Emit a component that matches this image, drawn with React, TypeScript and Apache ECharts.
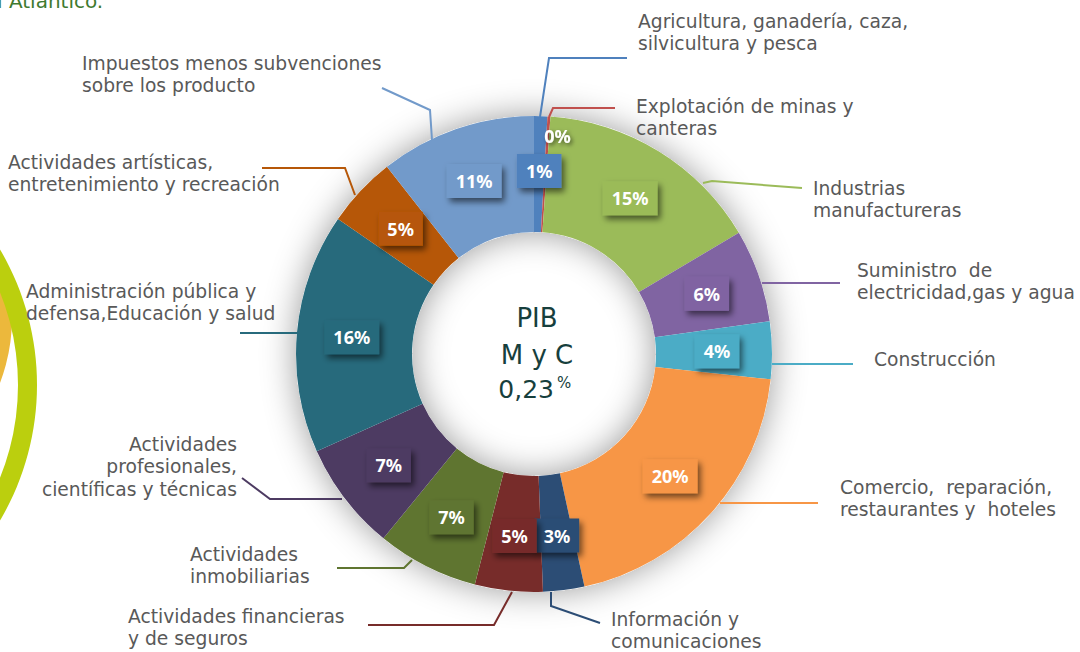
import React, { useEffect, useRef } from 'react';
import * as echarts from 'echarts';

// ---- data ----
const sectors: string[] = [
  'Agricultura, ganadería, caza,\nsilvicultura y pesca',
  'Explotación de minas y\ncanteras',
  'Industrias\nmanufactureras',
  'Suministro  de\nelectricidad,gas y agua',
  'Construcción',
  'Comercio,  reparación,\nrestaurantes y  hoteles',
  'Información y\ncomunicaciones',
  'Actividades financieras\ny de seguros',
  'Actividades\ninmobiliarias',
  'Actividades\nprofesionales,\ncientíficas y técnicas',
  'Administración pública y\ndefensa,Educación y salud',
  'Actividades artísticas,\nentretenimiento y recreación',
  'Impuestos menos subvenciones\nsobre los producto',
];
const shares: number[] = [0.9, 0.2, 15.4, 6.3, 3.9, 19.9, 2.8, 4.6, 6.9, 7.4, 16.3, 4.8, 10.6];
const centerTitle = ['PIB', 'M y C'];
const centerValue = '0,23';

// ---- styles / layout ----
const colors = [
  '#4f81bd', '#c0504d', '#9bbb59', '#8064a2', '#4bacc6', '#f79646', '#2c4d75',
  '#772c2a', '#5f7530', '#4d3b62', '#276a7c', '#b65708', '#729aca',
];
const labelBoxes: [number, number, string][] = [
  [638, 10, 'left'],
  [636, 95, 'left'],
  [813, 177, 'left'],
  [857, 259, 'left'],
  [874, 348, 'left'],
  [840, 476, 'left'],
  [611, 608, 'left'],
  [128, 605, 'left'],
  [190, 543, 'left'],
  [237, 433, 'right'],
  [26, 280, 'left'],
  [8, 151, 'left'],
  [82, 52, 'left'],
];
const leaderPaths: number[][][] = [
  [[540, 117], [549, 58], [627, 58]],
  [[549, 117], [553, 108], [615, 108]],
  [[703, 183], [712, 181], [802, 188]],
  [[762, 283], [800, 283], [840, 283]],
  [[772, 364], [810, 364], [853, 364]],
  [[720, 503], [770, 503], [818, 503]],
  [[551, 592], [551, 606], [600, 623]],
  [[512, 592], [494, 625], [368, 625]],
  [[412, 560], [404, 568], [337, 568]],
  [[342, 499], [270, 499], [242, 478]],
  [[297, 333], [270, 333], [240, 333]],
  [[355, 195], [345, 168], [262, 168]],
  [[432, 140], [430, 110], [382, 88]],
];
const CENTER = [534, 354];
const RADIUS = [122, 238];

export default function App() {
  const ref = useRef<HTMLDivElement>(null);
  useEffect(() => {
    if (!ref.current) return;
    const chart = echarts.init(ref.current, undefined, { renderer: 'svg' });
    const innerData = shares.map((v, i) => ({
      value: v,
      name: sectors[i],
      itemStyle: { color: colors[i] },
      label:
        i === 1
          ? {
              backgroundColor: 'transparent',
              shadowColor: 'transparent',
              textShadowColor: 'rgba(0,0,0,0.55)',
              textShadowBlur: 4,
              textShadowOffsetX: 2,
              textShadowOffsetY: 2,
            }
          : { backgroundColor: colors[i] },
    }));
    const outerData = shares.map((v, i) => ({
      value: v,
      name: sectors[i],
      itemStyle: { color: 'rgba(0,0,0,0)' },
      labelLine: { lineStyle: { color: colors[i] } },
    }));
    chart.setOption({
      animation: false,
      backgroundColor: '#ffffff',
      graphic: [
        {
          type: 'ring',
          z: -10,
          shape: { cx: -170, cy: 318, r: 182, r0: 160 },
          style: { fill: '#ecb83c' },
        },
        {
          type: 'ring',
          z: -9,
          shape: { cx: -230, cy: 385, r: 267, r0: 248 },
          style: { fill: '#bbcf0e' },
        },
        {
          type: 'text',
          x: -28,
          y: 11,
          style: {
            text: 'del Atlántico.',
            fill: '#3f7a2f',
            font: '20px "DejaVu Sans"',
            align: 'left',
            verticalAlign: 'bottom',
          },
        },
        {
          type: 'text',
          x: 537,
          y: 318,
          z: 10,
          style: {
            text: centerTitle[0],
            fill: '#173f3d',
            font: '26px "DejaVu Sans"',
            align: 'center',
            verticalAlign: 'middle',
          },
        },
        {
          type: 'text',
          x: 537,
          y: 355,
          z: 10,
          style: {
            text: centerTitle[1],
            fill: '#173f3d',
            font: '26px "DejaVu Sans"',
            align: 'center',
            verticalAlign: 'middle',
          },
        },
        {
          type: 'text',
          x: 554,
          y: 389,
          z: 10,
          style: {
            text: centerValue,
            fill: '#173f3d',
            font: '25px "DejaVu Sans"',
            align: 'right',
            verticalAlign: 'middle',
          },
        },
        {
          type: 'text',
          x: 557,
          y: 383,
          z: 10,
          style: {
            text: '%',
            fill: '#173f3d',
            font: '15px "DejaVu Sans"',
            align: 'left',
            verticalAlign: 'middle',
          },
        },
      ],
      series: [
        {
          type: 'pie',
          silent: true,
          center: CENTER,
          radius: RADIUS,
          data: [{ value: 1, name: 'shadow' }],
          itemStyle: {
            color: '#ffffff',
            shadowBlur: 34,
            shadowColor: 'rgba(0,0,0,0.4)',
          },
          label: { show: false },
          labelLine: { show: false },
          z: 1,
        },
        {
          type: 'pie',
          silent: true,
          center: CENTER,
          radius: RADIUS,
          startAngle: 90,
          clockwise: true,
          avoidLabelOverlap: false,
          data: innerData,
          itemStyle: { borderWidth: 0 },
          label: {
            show: true,
            position: 'inside',
            formatter: (p: any) => Math.round(p.value) + '%',
            color: '#ffffff',
            fontFamily: '"Noto Sans"',
            fontWeight: 'bold',
            fontSize: 18,
            lineHeight: 20,
            padding: [7, 9],
            shadowColor: 'rgba(0,0,0,0.55)',
            shadowBlur: 6,
            shadowOffsetX: 3,
            shadowOffsetY: 4,
          },
          labelLayout: (p: any) => (p.dataIndex === 1 ? { dx: 12, dy: -35 } : {}),
          labelLine: { show: false },
          z: 2,
        },
        {
          type: 'pie',
          silent: true,
          center: CENTER,
          radius: RADIUS,
          startAngle: 90,
          clockwise: true,
          avoidLabelOverlap: false,
          data: outerData,
          label: {
            show: true,
            position: 'outside',
            formatter: '{b}',
            color: '#595959',
            fontFamily: '"DejaVu Sans"',
            fontSize: 18.7,
            lineHeight: 22.5,
          },
          labelLine: {
            show: true,
            length: 10,
            length2: 10,
            smooth: false,
            lineStyle: { width: 2 },
          },
          labelLayout: (p: any) => {
            const b = labelBoxes[p.dataIndex];
            return {
              x: b[0],
              y: b[1],
              align: b[2],
              verticalAlign: 'top',
              labelLinePoints: leaderPaths[p.dataIndex],
            };
          },
          z: 3,
        },
      ],
    });
    return () => chart.dispose();
  }, []);
  return (
    <div
      ref={ref}
      style={{ position: 'fixed', left: 0, top: 0, width: 1080, height: 652 }}
    />
  );
}
